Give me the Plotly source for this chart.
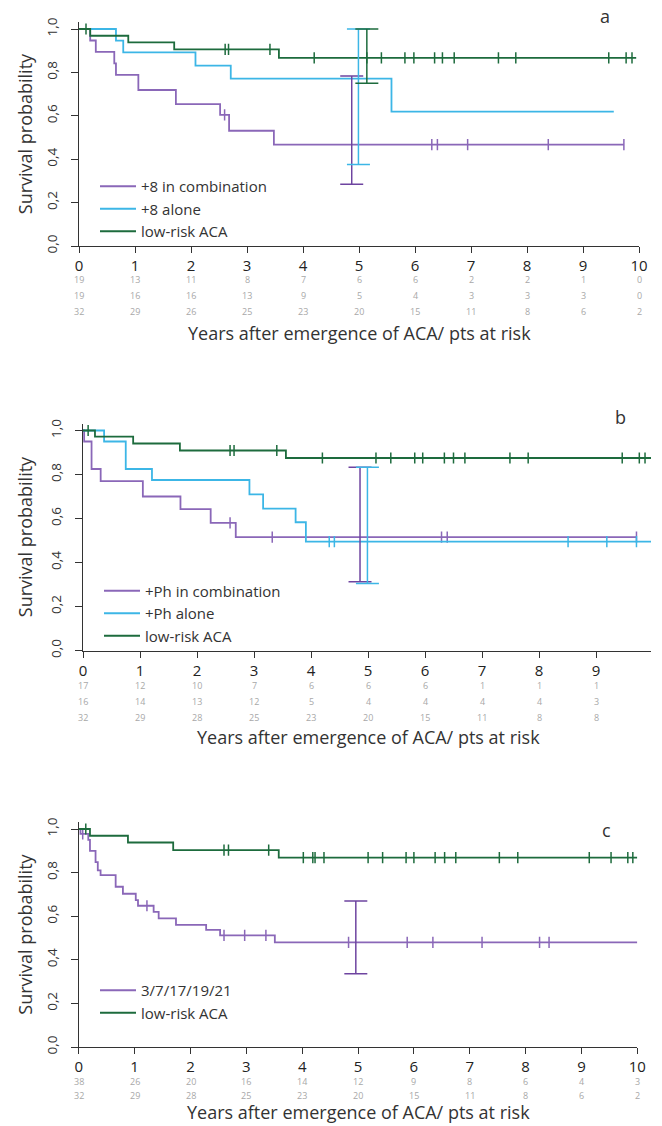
import plotly.graph_objects as go

# ---------------- data ----------------
years = list(range(0, 11))
x_tick_labels = [str(v) for v in years]
y_tick_vals = [0.0, 0.2, 0.4, 0.6, 0.8, 1.0]
y_tick_labels = ["0,0", "0,2", "0,4", "0,6", "0,8", "1,0"]
x_title = "Years after emergence of ACA/ pts at risk"
y_title = "Survival probability"

# Panel a
a_names = ["+8 in combination", "+8 alone", "low-risk ACA"]
a_comb_t = [0.20, 0.30, 0.63, 0.66, 1.06, 1.73, 2.52, 2.68, 3.48]
a_comb_s = [0.947, 0.895, 0.842, 0.789, 0.719, 0.654, 0.604, 0.531, 0.467]
a_comb_end = 9.73
a_comb_cens = [2.60, 6.30, 6.40, 6.94, 8.38, 9.73]
a_alone_t = [0.66, 0.79, 2.08, 2.71, 5.58]
a_alone_s = [0.946, 0.892, 0.831, 0.771, 0.619]
a_alone_end = 9.55
a_alone_cens = []
a_low_t = [0.20, 0.88, 1.70, 3.57]
a_low_s = [0.969, 0.938, 0.906, 0.867]
a_low_end = 9.95
a_low_cens = [0.125, 2.61, 2.67, 3.41, 4.20, 5.14, 5.40, 5.82, 5.98, 6.35, 6.49,
              6.70, 7.49, 7.80, 9.46, 9.77, 9.875]
a_ci_x = [4.87, 4.99, 5.14]
a_ci_lo = [0.284, 0.376, 0.750]
a_ci_hi = [0.783, 1.000, 1.000]
a_risk_comb = [19, 13, 11, 8, 7, 6, 6, 2, 2, 1, 0]
a_risk_alone = [19, 16, 16, 13, 9, 5, 4, 3, 3, 3, 0]
a_risk_low = [32, 29, 26, 25, 23, 20, 15, 11, 8, 6, 2]

# Panel b
b_names = ["+Ph in combination", "+Ph alone", "low-risk ACA"]
b_comb_t = [0.02, 0.15, 0.31, 1.05, 1.71, 2.24, 2.68]
b_comb_s = [0.950, 0.825, 0.770, 0.700, 0.643, 0.580, 0.515]
b_comb_end = 9.71
b_comb_cens = [2.58, 3.32, 6.29, 6.39, 9.71]
b_alone_t = [0.37, 0.75, 1.21, 2.92, 3.16, 3.73, 3.91]
b_alone_s = [0.950, 0.825, 0.775, 0.710, 0.645, 0.583, 0.495]
b_alone_end = 10.0
b_alone_cens = [4.32, 4.41, 8.51, 9.19, 9.71]
b_low_t = [0.21, 0.88, 1.70, 3.56]
b_low_s = [0.972, 0.941, 0.909, 0.875]
b_low_end = 10.0
b_low_cens = [0.09, 2.58, 2.65, 3.40, 4.20, 5.14, 5.40, 5.82, 5.96, 6.34, 6.50,
              6.70, 7.49, 7.81, 9.46, 9.76, 9.86]
b_ci_x = [4.86, 4.99]
b_ci_lo = [0.313, 0.304]
b_ci_hi = [0.833, 0.833]
b_risk_comb = [17, 12, 10, 7, 6, 6, 6, 1, 1, 1, 0]
b_risk_alone = [16, 14, 13, 12, 5, 4, 4, 4, 4, 3, 1]
b_risk_low = [32, 29, 28, 25, 23, 20, 15, 11, 8, 8, 2]

# Panel c
c_names = ["3/7/17/19/21", "low-risk ACA"]
c_comb_t = [0.03, 0.17, 0.20, 0.30, 0.34, 0.39, 0.66, 0.79, 1.02, 1.06, 1.34,
            1.43, 1.74, 2.28, 2.53, 3.51]
c_comb_s = [0.978, 0.950, 0.900, 0.848, 0.810, 0.788, 0.735, 0.703, 0.674, 0.648,
            0.620, 0.590, 0.560, 0.537, 0.512, 0.480]
c_comb_end = 10.0
c_comb_cens = [0.07, 1.22, 2.60, 2.97, 3.35, 4.83, 5.88, 6.34, 7.22, 8.25, 8.42]
c_low_t = [0.20, 0.88, 1.69, 3.58]
c_low_s = [0.969, 0.938, 0.903, 0.869]
c_low_end = 10.0
c_low_cens = [0.125, 2.60, 2.68, 3.40, 4.02, 4.19, 4.23, 4.39, 5.18, 5.44, 5.86,
              6.00, 6.38, 6.55, 6.75, 7.53, 7.86, 9.14, 9.53, 9.83, 9.92]
c_ci_x = [4.96]
c_ci_lo = [0.336]
c_ci_hi = [0.670]
c_risk_comb = [38, 26, 20, 16, 14, 12, 9, 8, 6, 4, 3]
c_risk_low = [32, 29, 28, 25, 23, 20, 15, 11, 8, 6, 2]

# ---------------- style / layout ----------------
W, H = 651, 1126
FONT = "Open Sans"
TXT = "#333333"
PURPLE = "#8a67b8"
PURPLE_D = "#6e44a0"
CYAN = "#3cb6e6"
GREEN = "#1d6b3d"
YTOP = 1.03

geo = {
    "a": dict(x0=79, x10=639, y0=246, y1=29, xend=10.0, label=(605, 16),
              rows=[279.3, 295.5, 311.5], title=332.5, leg=(95, 170)),
    "b": dict(x0=83, x10=653, y0=650.5, y1=430.5, xend=9.965, label=(620, 417),
              rows=[685.5, 701.5, 717.3], title=737, leg=(99, 574.5)),
    "c": dict(x0=78.8, x10=637.3, y0=1047, y1=829, xend=10.0, label=(606, 830),
              rows=[1081.3, 1095.8], title=1112.3, leg=(95, 974)),
}


def clamp(v):
    return max(0.0, min(1.0, v))


def px_x(p):
    return clamp(p / W)


def px_y(p):
    return clamp(1 - p / H)


fig = go.Figure()


def km_xy(t, s, end):
    xs = [0.0] + list(t) + [end]
    ys = [1.0] + list(s) + [s[-1]]
    return xs, ys


def surv_at(t, s, x):
    v = 1.0
    for ti, si in zip(t, s):
        if ti <= x:
            v = si
    return v


panels = [
    ("a", 1, a_names,
     [(a_comb_t, a_comb_s, a_comb_end, a_comb_cens, PURPLE, PURPLE_D),
      (a_alone_t, a_alone_s, a_alone_end, a_alone_cens, CYAN, CYAN),
      (a_low_t, a_low_s, a_low_end, a_low_cens, GREEN, GREEN)],
     a_ci_x, a_ci_lo, a_ci_hi, [a_risk_comb, a_risk_alone, a_risk_low]),
    ("b", 2, b_names,
     [(b_comb_t, b_comb_s, b_comb_end, b_comb_cens, PURPLE, PURPLE_D),
      (b_alone_t, b_alone_s, b_alone_end, b_alone_cens, CYAN, CYAN),
      (b_low_t, b_low_s, b_low_end, b_low_cens, GREEN, GREEN)],
     b_ci_x, b_ci_lo, b_ci_hi, [b_risk_comb, b_risk_alone, b_risk_low]),
    ("c", 3, c_names,
     [(c_comb_t, c_comb_s, c_comb_end, c_comb_cens, PURPLE, PURPLE_D),
      (c_low_t, c_low_s, c_low_end, c_low_cens, GREEN, GREEN)],
     c_ci_x, c_ci_lo, c_ci_hi, [c_risk_comb, c_risk_low]),
]

annotations = []
layout_axes = {}

for key, n, names, curves, ci_x, ci_lo, ci_hi, risks in panels:
    g = geo[key]
    xa = "x" if n == 1 else f"x{n}"
    ya = "y" if n == 1 else f"y{n}"
    leg = "legend" if n == 1 else f"legend{n}"
    ppx = (g["x10"] - g["x0"]) / 10.0
    ppy = g["y0"] - g["y1"]

    for i, (t, s, end, cens, col, ecol) in enumerate(curves):
        xs, ys = km_xy(t, s, end)
        fig.add_trace(go.Scatter(
            x=xs, y=ys, mode="lines", line=dict(color=col, width=1.8, shape="hv"),
            name=names[i], xaxis=xa, yaxis=ya, legend=leg, showlegend=True,
            hoverinfo="skip"))
        if cens:
            fig.add_trace(go.Scatter(
                x=cens, y=[surv_at(t, s, c) for c in cens], mode="markers",
                marker=dict(symbol="line-ns", size=8, line=dict(color=col, width=1.5)),
                xaxis=xa, yaxis=ya, showlegend=False, hoverinfo="skip"))
    for j, cx in enumerate(ci_x):
        t, s, end, cens, col, ecol = curves[j]
        yc = surv_at(t, s, cx)
        fig.add_trace(go.Scatter(
            x=[cx], y=[yc], mode="markers",
            marker=dict(size=1, color="rgba(0,0,0,0)"),
            error_y=dict(type="data", symmetric=False, array=[ci_hi[j] - yc],
                         arrayminus=[yc - ci_lo[j]], color=ecol, thickness=1.5,
                         width=11.5),
            xaxis=xa, yaxis=ya, showlegend=False, hoverinfo="skip"))

    xkey = "xaxis" if n == 1 else f"xaxis{n}"
    ykey = "yaxis" if n == 1 else f"yaxis{n}"
    layout_axes[xkey] = dict(
        domain=[px_x(g["x0"]), px_x(g["x0"] + g["xend"] * ppx)],
        range=[0, g["xend"]], anchor=ya, tickvals=years, ticktext=x_tick_labels,
        ticks="outside", ticklen=6, tickwidth=1.3, tickcolor="#333",
        showline=True, linecolor="#333", linewidth=1.3, showgrid=False,
        zeroline=False, tickfont=dict(family=FONT, size=15, color="#222"),
        fixedrange=True, automargin=False)
    layout_axes[ykey] = dict(
        domain=[px_y(g["y0"]), px_y(g["y0"] - YTOP * ppy)],
        range=[0, YTOP], anchor=xa, tickvals=y_tick_vals, ticktext=y_tick_labels,
        ticks="outside", ticklen=7, tickwidth=1.3, tickcolor="#333",
        showline=True, linecolor="#333", linewidth=1.3, showgrid=False,
        zeroline=False, tickangle=-90, ticklabelstandoff=8,
        tickfont=dict(family=FONT, size=13.5, color="#333"), fixedrange=True,
        automargin=False)

    layout_axes[leg] = dict(
        x=px_x(g["leg"][0]), y=px_y(g["leg"][1]), xanchor="left", yanchor="top",
        bgcolor="rgba(0,0,0,0)", font=dict(family=FONT, size=15, color=TXT),
        tracegroupgap=0, itemclick=False, itemwidth=36)

    annotations.append(dict(
        text=key, x=px_x(g["label"][0]), y=px_y(g["label"][1]), xref="paper",
        yref="paper", showarrow=False, xanchor="center", yanchor="middle",
        font=dict(family=FONT, size=18, color=TXT)))
    annotations.append(dict(
        text=y_title, x=px_x(25), y=0.5, xref="paper", yref=f"{ya} domain",
        textangle=-90, showarrow=False, xanchor="center", yanchor="middle",
        font=dict(family=FONT, size=18, color=TXT)))
    for r, row in enumerate(risks):
        for yv, num in zip(years, row):
            annotations.append(dict(
                text=str(num), x=yv, xref=xa, y=px_y(g["rows"][r]), yref="paper",
                showarrow=False, xanchor="center", yanchor="middle",
                font=dict(family=FONT, size=9, color="#a8a8a8")))
    annotations.append(dict(
        text=x_title, x=5, xref=xa, y=px_y(g["title"]), yref="paper",
        showarrow=False, xanchor="center", yanchor="middle",
        font=dict(family=FONT, size=18, color=TXT)))

fig.update_layout(
    width=W, height=H, margin=dict(l=0, r=0, t=0, b=0),
    paper_bgcolor="white", plot_bgcolor="white",
    font=dict(family=FONT, color=TXT),
    annotations=annotations, **layout_axes)

fig.write_html("out.html", config={"displayModeBar": False},
               post_script="document.body.style.margin='0px';")
